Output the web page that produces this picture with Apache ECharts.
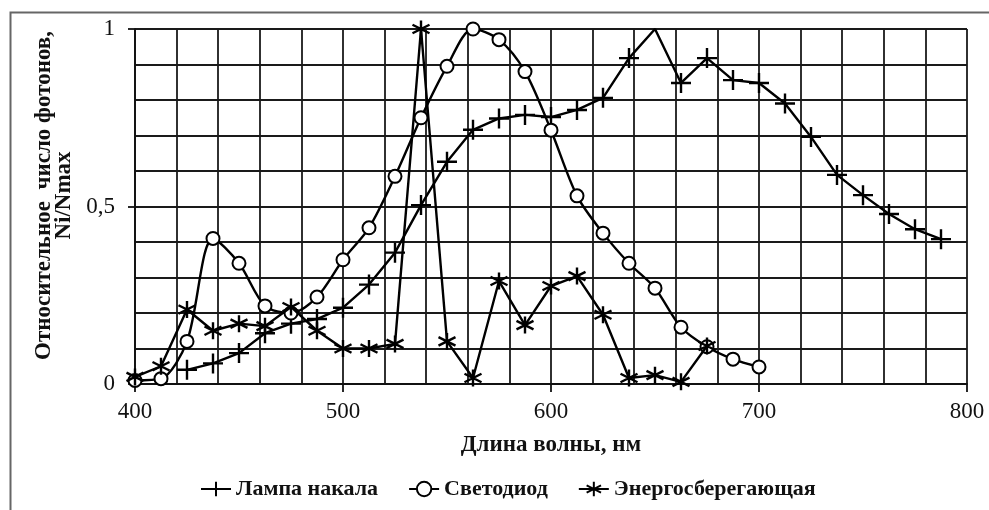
<!DOCTYPE html>
<html lang="ru">
<head>
    <meta charset="UTF-8">
    <title>Спектры</title>
    <script src="https://cdn.jsdelivr.net/npm/echarts@6/dist/echarts.min.js"></script>
    <style>
        html, body { margin: 0; padding: 0; background: #fff; }
        #chart { width: 989px; height: 510px; }
    </style>
</head>
<body>
    <div id="chart"></div>
    <script>
        // данные
        const lampWl = [425, 437.5, 450, 462.5, 475, 487.5, 500, 512.5, 525, 537.5, 550, 562.5, 575, 587.5, 600,
            612.5, 625, 637.5, 650, 662.5, 675, 687.5, 700, 712.5, 725, 737.5, 750, 762.5, 775, 787.5];
        const lampVal = [0.04, 0.058, 0.087, 0.143, 0.17, 0.183, 0.215, 0.28, 0.37, 0.504, 0.626, 0.716, 0.748, 0.758, 0.752,
            0.772, 0.806, 0.918, 1.0, 0.848, 0.918, 0.856, 0.848, 0.79, 0.696, 0.589, 0.532, 0.479, 0.436, 0.408];

        const ledWl = [400, 412.5, 425, 437.5, 450, 462.5, 475, 487.5, 500, 512.5, 525, 537.5, 550, 562.5, 575,
            587.5, 600, 612.5, 625, 637.5, 650, 662.5, 675, 687.5, 700];
        const ledVal = [0.01, 0.015, 0.12, 0.41, 0.34, 0.22, 0.2, 0.245, 0.35, 0.44, 0.585, 0.75, 0.895, 1.0, 0.97,
            0.88, 0.715, 0.53, 0.425, 0.34, 0.27, 0.16, 0.105, 0.07, 0.048];

        const cflWl = [400, 412.5, 425, 437.5, 450, 462.5, 475, 487.5, 500, 512.5, 525, 537.5, 550, 562.5, 575,
            587.5, 600, 612.5, 625, 637.5, 650, 662.5, 675];
        const cflVal = [0.02, 0.05, 0.21, 0.15, 0.17, 0.163, 0.217, 0.15, 0.1, 0.1, 0.113, 1.0, 0.12, 0.017, 0.29,
            0.166, 0.276, 0.304, 0.195, 0.017, 0.025, 0.006, 0.107];

        const seriesNames = ['Лампа накала', 'Светодиод', 'Энергосберегающая'];

        // на вершине кривой лампы маркер не виден
        const lampHiddenMarker = [650];

        const serif = 'Liberation Serif, Times New Roman, serif';
        const plusSymbol = 'path://M0,-10L0,10M-10,0L10,0';
        const starSymbol = 'path://M0,-10L0,10M-8.7,-5L8.7,5M-8.7,5L8.7,-5';

        function pairs(xs, ys) {
            return xs.map((x, i) => [x, ys[i]]);
        }

        const lampData = pairs(lampWl, lampVal).map(p =>
            lampHiddenMarker.includes(p[0]) ? { value: p, symbol: 'none' } : p);

        const chart = echarts.init(document.getElementById('chart'));

        const gridLine = { show: true, lineStyle: { color: '#1a1a1a', width: 1.8 } };
        const axisText = { fontFamily: serif, fontSize: 23, color: '#111' };
        const boldText = { fontFamily: serif, fontWeight: 'bold', fontSize: 23, color: '#111' };

        const option = {
            animation: false,
            backgroundColor: '#fff',
            graphic: [{
                type: 'rect',
                left: 8, top: 10,
                shape: { width: 1000, height: 520 },
                style: { fill: 'none', stroke: '#666', lineWidth: 2 },
                silent: true
            }],
            grid: { left: 135, right: 22, top: 29, bottom: 126 },
            legend: {
                bottom: 5,
                left: 195,
                itemWidth: 30,
                itemHeight: 18,
                itemGap: 30,
                textStyle: Object.assign({}, boldText, { fontSize: 22 }),
                data: seriesNames
            },
            xAxis: {
                type: 'value',
                min: 400, max: 800, interval: 100,
                name: 'Длина волны, нм',
                nameLocation: 'middle',
                nameGap: 50,
                nameTextStyle: boldText,
                axisLine: { onZero: false, lineStyle: { color: '#111', width: 1.8 } },
                axisTick: { show: true, length: 8, lineStyle: { color: '#111', width: 1.8 } },
                axisLabel: Object.assign({ margin: 16 }, axisText),
                splitLine: gridLine,
                minorTick: { show: false, splitNumber: 5 },
                minorSplitLine: gridLine
            },
            yAxis: {
                type: 'value',
                min: 0, max: 1, interval: 0.5,
                name: 'Относительное  число фотонов,\nNi/Nmax',
                nameLocation: 'middle',
                nameRotate: 90,
                nameGap: 54,
                nameTextStyle: Object.assign({ lineHeight: 20, padding: [0, 0, 0, 22] }, boldText),
                axisLine: { show: true, lineStyle: { color: '#111', width: 1.8 } },
                axisTick: { show: true, length: 7, lineStyle: { color: '#111', width: 1.8 } },
                axisLabel: Object.assign({
                    margin: 20,
                    formatter: v => String(v).replace('.', ',')
                }, axisText),
                splitLine: gridLine,
                minorTick: { show: false, splitNumber: 5 },
                minorSplitLine: gridLine
            },
            series: [{
                name: seriesNames[0],
                type: 'line',
                data: lampData,
                symbol: plusSymbol,
                symbolSize: 20,
                lineStyle: { color: '#000', width: 2.4 },
                itemStyle: { color: '#000', borderColor: '#000', borderWidth: 2.4 },
                z: 3
            }, {
                name: seriesNames[1],
                type: 'line',
                data: pairs(ledWl, ledVal),
                smooth: 0.3,
                symbol: 'emptyCircle',
                symbolSize: 13,
                lineStyle: { color: '#000', width: 2.4 },
                itemStyle: { color: '#000', borderWidth: 1.8 },
                z: 4
            }, {
                name: seriesNames[2],
                type: 'line',
                data: pairs(cflWl, cflVal),
                symbol: starSymbol,
                symbolSize: 17,
                lineStyle: { color: '#000', width: 2.4 },
                itemStyle: { color: '#000', borderColor: '#000', borderWidth: 2.4 },
                z: 5
            }]
        };

        chart.setOption(option);
    </script>
</body>
</html>
